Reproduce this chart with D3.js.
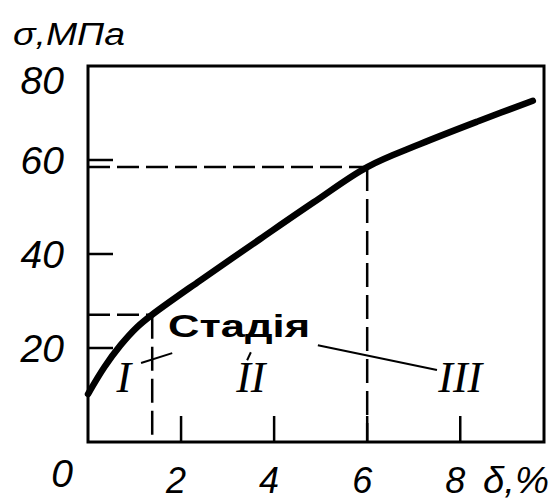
<!DOCTYPE html>
<html>
<head>
<meta charset="utf-8">
<script src="https://cdn.jsdelivr.net/npm/d3@7/dist/d3.min.js"></script>
<style>
  html, body { margin: 0; padding: 0; background: #fff; }
  svg { display: block; }
</style>
</head>
<body>
<svg id="chart" width="560" height="504"></svg>
<script>
// Stress–strain curve: relative deformation δ (%) vs stress σ (MPa)
const deltaPct  = [0, 0.35, 0.70, 1.05, 1.38, 2.40, 3.70, 4.85, 6.0, 7.14, 8.40, 9.56];
const stressMPa = [10.2, 15.9, 20.6, 24.4, 27.1, 34.3, 43.2, 51.0, 58.5, 63.4, 68.3, 72.6];

// Boundaries between deformation stages
const stageDelta  = [1.38, 6.0];
const stageStress = [27.1, 58.5];
const stageNames  = ["I", "II", "III"];

// Axis ticks and labels
const xTicks = [2, 4, 6, 8];
const yTicks = [20, 40, 60, 80];
const xTickLabels = ["2", "4", "6", "8"];
const yTickLabels = ["20", "40", "60", "80"];
const originLabel = "0";
const yTitle = "σ,МПа";
const xTitle = "δ,%";
const stageTitle = "Стадія";

const svg = d3.select("#chart");
const x = d3.scaleLinear().domain([0, 9.8]).range([88, 544]);
const y = d3.scaleLinear().domain([0, 80]).range([442, 66]);

const ink = "#000";
const tickFont = "'Liberation Sans', Arial, sans-serif";

// Frame
svg.append("rect")
  .attr("x", x(0)).attr("y", y(80))
  .attr("width", x(9.8) - x(0)).attr("height", y(0) - y(80))
  .attr("fill", "none").attr("stroke", ink).attr("stroke-width", 3);

// Inner ticks
svg.append("g").selectAll("line").data(yTicks.filter(v => v < 80)).join("line")
  .attr("x1", x(0)).attr("x2", x(0) + 25)
  .attr("y1", d => y(d)).attr("y2", d => y(d))
  .attr("stroke", ink).attr("stroke-width", 2.5);

svg.append("g").selectAll("line").data(xTicks).join("line")
  .attr("x1", d => x(d)).attr("x2", d => x(d))
  .attr("y1", y(0)).attr("y2", y(0) - 26)
  .attr("stroke", ink).attr("stroke-width", 2.5);

// Dashed guide lines at stage boundaries
const guides = svg.append("g").attr("stroke", ink).attr("stroke-width", 2.5)
  .attr("fill", "none");
stageDelta.forEach((d, i) => {
  guides.append("line")
    .attr("x1", x(0)).attr("x2", x(d))
    .attr("y1", y(stageStress[i])).attr("y2", y(stageStress[i]))
    .attr("stroke-dasharray", "22,7");
  guides.append("line")
    .attr("x1", x(d)).attr("x2", x(d))
    .attr("y1", y(stageStress[i])).attr("y2", y(0))
    .attr("stroke-dasharray", "24,8");
});

// Curve
const pts = deltaPct.map((d, i) => [d, stressMPa[i]]);
svg.append("path")
  .datum(pts)
  .attr("d", d3.line().x(d => x(d[0])).y(d => y(d[1])).curve(d3.curveCatmullRom.alpha(0.5)))
  .attr("fill", "none").attr("stroke", ink).attr("stroke-width", 6.5)
  .attr("stroke-linecap", "round").attr("stroke-linejoin", "round");

// Y tick labels
svg.append("g").selectAll("text").data(yTicks).join("text")
  .attr("x", x(0) - 24)
  .attr("y", d => Math.max(y(d), y(80) + 14))
  .attr("dy", "0.36em")
  .attr("text-anchor", "end")
  .attr("font-family", tickFont).attr("font-style", "italic")
  .attr("font-size", 39).attr("fill", ink)
  .text((d, i) => yTickLabels[i]);

// X tick labels
svg.append("g").selectAll("text").data(xTicks).join("text")
  .attr("x", d => x(d) - 5)
  .attr("y", y(0) + 51)
  .attr("text-anchor", "middle")
  .attr("font-family", tickFont).attr("font-style", "italic")
  .attr("font-size", 36).attr("fill", ink)
  .text((d, i) => xTickLabels[i]);

svg.append("text")
  .attr("x", x(0) - 26).attr("y", y(0) + 45)
  .attr("text-anchor", "middle")
  .attr("font-family", tickFont).attr("font-style", "italic")
  .attr("font-size", 39).attr("fill", ink)
  .text(originLabel);

// Axis titles
svg.append("text")
  .attr("x", 13).attr("y", 45)
  .attr("textLength", 112).attr("lengthAdjust", "spacingAndGlyphs")
  .attr("font-family", tickFont).attr("font-style", "italic")
  .attr("font-size", 31).attr("fill", ink)
  .text(yTitle);

svg.append("text")
  .attr("x", 483).attr("y", y(0) + 51)
  .attr("textLength", 66).attr("lengthAdjust", "spacingAndGlyphs")
  .attr("font-family", tickFont).attr("font-style", "italic")
  .attr("font-size", 37).attr("fill", ink)
  .text(xTitle);

// Stage annotation
svg.append("text")
  .attr("x", x(1.72)).attr("y", y(22.3))
  .attr("textLength", 142).attr("lengthAdjust", "spacingAndGlyphs")
  .attr("font-family", tickFont).attr("font-weight", "bold")
  .attr("font-size", 32).attr("fill", ink)
  .text(stageTitle);

const leaders = [
  [[1.14, 16.8], [1.81, 18.9]],
  [[3.50, 19.1], [3.42, 17.4]],
  [[4.94, 20.6], [7.50, 15.3]]
];
svg.append("g").selectAll("line").data(leaders).join("line")
  .attr("x1", d => x(d[0][0])).attr("y1", d => y(d[0][1]))
  .attr("x2", d => x(d[1][0])).attr("y2", d => y(d[1][1]))
  .attr("stroke", ink).attr("stroke-width", 2);

const stageLabelDelta = [0.77, 3.5, 8.0];
svg.append("g").selectAll("text").data(stageNames).join("text")
  .attr("x", (d, i) => x(stageLabelDelta[i]))
  .attr("y", y(10.6))
  .attr("text-anchor", "middle")
  .attr("font-family", "'Liberation Serif', 'Times New Roman', serif")
  .attr("font-style", "italic")
  .attr("font-size", 44).attr("fill", ink)
  .text(d => d);
</script>
</body>
</html>
